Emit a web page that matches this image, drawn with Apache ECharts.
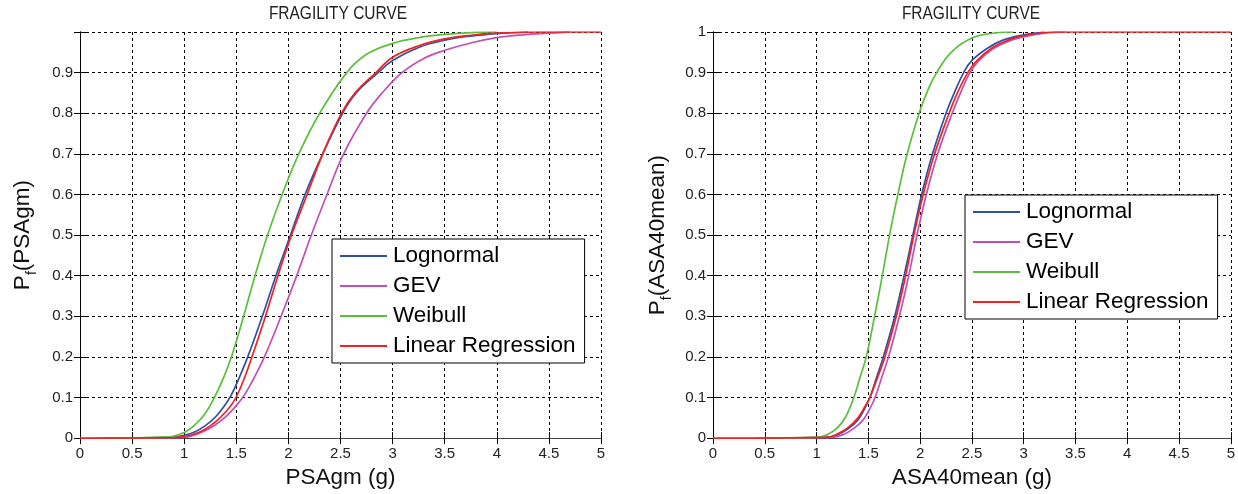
<!DOCTYPE html>
<html>
<head>
<meta charset="utf-8">
<script src="https://cdn.jsdelivr.net/npm/echarts@6/dist/echarts.min.js"></script>
<style>
html,body{margin:0;padding:0;background:#fff;}
#chart{width:1238px;height:494px;}
</style>
</head>
<body>
<div id="chart"></div>
<script>
// ---- Data ----
var seriesNames = ['Lognormal', 'GEV', 'Weibull', 'Linear Regression'];
var xTicks = [0, 0.5, 1, 1.5, 2, 2.5, 3, 3.5, 4, 4.5, 5];
var yTicks = [0, 0.1, 0.2, 0.3, 0.4, 0.5, 0.6, 0.7, 0.8, 0.9, 1];

// Left chart: PSAgm
var psaLognormal = [[0.25,0],[0.9,0.002],[1.0,0.007],[1.1,0.015],[1.2,0.03],[1.3,0.052],[1.38,0.077],[1.45,0.105],[1.53,0.15],[1.61,0.2],[1.75,0.3],[1.88,0.4],[2.02,0.5],[2.16,0.6],[2.33,0.7],[2.52,0.8],[2.65,0.85],[2.86,0.9],[3.0,0.93],[3.25,0.962],[3.5,0.98],[3.75,0.99],[4.0,0.996],[4.3,1]];
var psaGEV = [[0.3,0],[1.0,0.002],[1.1,0.008],[1.2,0.018],[1.3,0.033],[1.4,0.053],[1.5,0.08],[1.58,0.107],[1.67,0.148],[1.77,0.2],[1.93,0.3],[2.08,0.4],[2.22,0.5],[2.37,0.6],[2.53,0.7],[2.75,0.8],[2.9,0.85],[3.09,0.9],[3.3,0.935],[3.5,0.955],[3.75,0.973],[4.0,0.986],[4.25,0.993],[4.5,0.997],[4.7,1]];
var psaWeibull = [[0.2,0],[0.85,0.003],[1.0,0.014],[1.1,0.032],[1.2,0.06],[1.29,0.1],[1.38,0.15],[1.46,0.205],[1.57,0.3],[1.68,0.4],[1.80,0.5],[1.94,0.6],[2.1,0.7],[2.30,0.8],[2.56,0.9],[2.75,0.945],[3.0,0.972],[3.25,0.986],[3.5,0.994],[3.8,0.999],[4.0,1]];
var psaLinReg = [[0,0],[0.9,0.001],[1.0,0.004],[1.1,0.01],[1.2,0.022],[1.3,0.04],[1.4,0.065],[1.47,0.088],[1.53,0.118],[1.6,0.163],[1.67,0.215],[1.78,0.3],[1.90,0.4],[2.03,0.5],[2.18,0.6],[2.33,0.7],[2.51,0.8],[2.64,0.85],[2.84,0.9],[3.0,0.938],[3.25,0.966],[3.5,0.983],[3.75,0.992],[4.0,0.997],[4.4,1],[5,1]];

// Right chart: ASA40mean
var asaLognormal = [[0.5,0],[1.1,0.002],[1.2,0.008],[1.3,0.022],[1.4,0.045],[1.46,0.07],[1.515,0.1],[1.58,0.15],[1.645,0.2],[1.755,0.3],[1.845,0.4],[1.93,0.5],[2.015,0.6],[2.12,0.7],[2.25,0.8],[2.33,0.85],[2.42,0.9],[2.5,0.93],[2.65,0.96],[2.8,0.98],[3.0,0.993],[3.2,1]];
var asaGEV = [[0.5,0],[1.15,0.002],[1.25,0.008],[1.35,0.022],[1.45,0.045],[1.51,0.07],[1.565,0.1],[1.63,0.15],[1.695,0.2],[1.80,0.3],[1.89,0.4],[1.97,0.5],[2.06,0.6],[2.17,0.7],[2.31,0.8],[2.39,0.85],[2.48,0.9],[2.57,0.93],[2.7,0.958],[2.85,0.977],[3.0,0.988],[3.2,0.997],[3.4,1]];
var asaWeibull = [[0.4,0],[1.0,0.002],[1.1,0.008],[1.2,0.025],[1.28,0.052],[1.36,0.1],[1.42,0.15],[1.48,0.2],[1.56,0.3],[1.635,0.4],[1.705,0.5],[1.785,0.6],[1.875,0.7],[1.99,0.8],[2.08,0.86],[2.16,0.9],[2.3,0.95],[2.5,0.985],[2.7,0.997],[2.9,1]];
var asaLinReg = [[0,0],[1.1,0.002],[1.2,0.01],[1.3,0.025],[1.4,0.05],[1.46,0.075],[1.515,0.1],[1.59,0.15],[1.66,0.2],[1.77,0.3],[1.86,0.4],[1.94,0.5],[2.03,0.6],[2.14,0.7],[2.28,0.8],[2.36,0.85],[2.46,0.9],[2.55,0.93],[2.7,0.962],[2.85,0.98],[3.0,0.991],[3.3,1],[5,1]];

var titles = ['FRAGILITY CURVE', 'FRAGILITY CURVE'];
var xNames = ['PSAgm (g)', 'ASA40mean (g)'];
var yNameParts = [['P', 'f', '(PSAgm)'], ['P', 'f', '(ASA40mean)']];

// ---- Styling ----
var colors = ['#3050a8', '#c050b8', '#5cbf3c', '#f02222'];
var FONT = "'Liberation Sans', Arial, sans-serif";
var grids = [
  {left: 80, top: 32, width: 521, height: 409.5},
  {left: 713, top: 32, width: 521, height: 409.5}
];

var chart = echarts.init(document.getElementById('chart'));

var xAxes = [], yAxes = [];
for (var g = 0; g < 2; g++) {
  (function(g){
    xAxes.push({
      type: 'value', gridIndex: g, position: 'bottom',
      min: xTicks[0], max: xTicks[xTicks.length-1], interval: xTicks[1]-xTicks[0],
      name: xNames[g], nameLocation: 'middle', nameGap: 24,
      nameTextStyle: {fontFamily: FONT, fontSize: 22.5, color: '#111'},
      axisLine: {show: true, lineStyle: {color: '#000', width: 1}},
      axisTick: {show: true, inside: true, length: 6, lineStyle: {color: '#000'}},
      axisLabel: {fontFamily: FONT, fontSize: 15, color: '#222', margin: 8},
      splitLine: {show: true, lineStyle: {color: '#000', width: 1, type: [3, 3]}}
    });
    xAxes.push({
      type: 'value', gridIndex: g, position: 'top',
      min: xTicks[0], max: xTicks[xTicks.length-1], interval: xTicks[1]-xTicks[0],
      axisLine: {show: true, lineStyle: {color: '#444', width: 1}},
      axisTick: {show: true, inside: true, length: 6, lineStyle: {color: '#000'}},
      axisLabel: {show: false}, splitLine: {show: false}
    });
    yAxes.push({
      type: 'value', gridIndex: g, position: 'left',
      min: yTicks[0], max: yTicks[yTicks.length-1], interval: 0.1,
      name: '{p|' + yNameParts[g][0] + '}{s|' + yNameParts[g][1] + '}{p|' + yNameParts[g][2] + '}',
      nameLocation: 'middle', nameGap: g === 0 ? 41 : 39, nameRotate: 90,
      nameTextStyle: {
        fontFamily: FONT, color: '#111',
        rich: {
          p: {fontFamily: FONT, fontSize: 22.5, color: '#111', lineHeight: 25, padding: [0, 0, 8, 0]},
          s: {fontFamily: FONT, fontSize: 14, color: '#111', lineHeight: 15, verticalAlign: 'bottom'}
        }
      },
      axisLine: {show: true, lineStyle: {color: '#000', width: 1}},
      axisTick: {show: true, inside: true, length: 6, lineStyle: {color: '#000'}},
      axisLabel: {
        fontFamily: FONT, fontSize: 15, color: '#222', margin: 7,
        formatter: function(v){ if (g === 0 && v >= 0.999) return ''; return String(Math.round(v*10)/10); }
      },
      splitLine: {show: true, lineStyle: {color: '#000', width: 1, type: [3, 3]}}
    });
    yAxes.push({
      type: 'value', gridIndex: g, position: 'right',
      min: yTicks[0], max: yTicks[yTicks.length-1], interval: 0.1,
      axisLine: {show: true, lineStyle: {color: '#000', width: 1}},
      axisTick: {show: true, inside: true, length: 6, lineStyle: {color: '#000'}},
      axisLabel: {show: false}, splitLine: {show: false}
    });
  })(g);
}

var dataSets = [
  [psaLognormal, psaGEV, psaWeibull, psaLinReg],
  [asaLognormal, asaGEV, asaWeibull, asaLinReg]
];
var series = [];
for (var g2 = 0; g2 < 2; g2++) {
  for (var s = 0; s < 4; s++) {
    series.push({
      name: seriesNames[s], type: 'line',
      xAxisIndex: g2*2, yAxisIndex: g2*2,
      data: dataSets[g2][s],
      symbol: 'none', smooth: 0.4,
      lineStyle: {color: colors[s], width: 1.7},
      itemStyle: {color: colors[s]},
      z: 3 + s
    });
  }
}

function legendFor(left, top) {
  return {
    data: seriesNames, orient: 'vertical', left: left, top: top,
    backgroundColor: '#fff', borderColor: '#000', borderWidth: 1, borderRadius: 0,
    padding: [5, 9, 5, 8], itemGap: 6, itemWidth: 47, itemHeight: 2.2,
    icon: 'rect', selectedMode: false,
    textStyle: {fontFamily: FONT, fontSize: 22.5, color: '#000', lineHeight: 24, padding: [0,0,0,1]}
  };
}

var option = {
  animation: false,
  backgroundColor: '#fff',
  grid: grids,
  xAxis: xAxes,
  yAxis: yAxes,
  legend: [legendFor(332, 239), legendFor(965, 195)],
  graphic: [
    {type: 'text', x: 338, y: 14, scaleX: 0.86, z: 10,
     style: {text: titles[0], font: '18px ' + FONT, fill: '#222', textAlign: 'center', textVerticalAlign: 'middle'}},
    {type: 'text', x: 971, y: 14, scaleX: 0.86, z: 10,
     style: {text: titles[1], font: '18px ' + FONT, fill: '#222', textAlign: 'center', textVerticalAlign: 'middle'}}
  ],
  series: series
};
chart.setOption(option);
</script>
</body>
</html>
